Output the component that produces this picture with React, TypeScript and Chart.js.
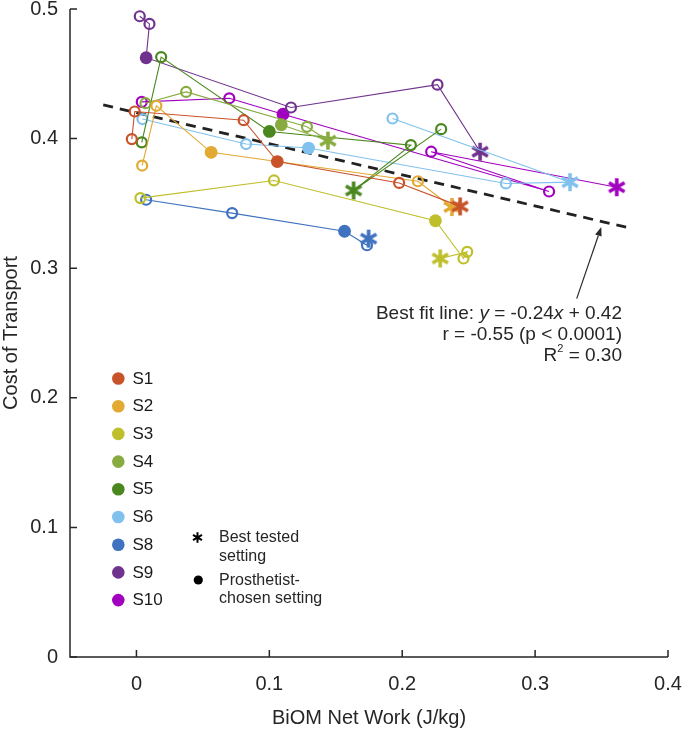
import React, { useEffect, useRef } from 'react';
import { Chart, registerables } from 'chart.js';

Chart.register(...registerables);

const FONT = '"Liberation Sans", Arial, Helvetica, sans-serif';
const AXIS = '#262626';

// ---- data ----
const subjects = ['S1', 'S2', 'S3', 'S4', 'S5', 'S6', 'S8', 'S9', 'S10'];
const colors = ['#C8532A', '#E2A933', '#BFBF2C', '#88AB40', '#4A871F', '#80C1EE', '#3F72BF', '#70338D', '#A200BF'];

// marker kinds: o = tested setting, f = prosthetist-chosen, s = best tested
const s1X = [-0.0035, -0.0013, 0.0807, 0.106, 0.1977, 0.2436];
const s1Y = [0.3996, 0.4209, 0.4142, 0.3823, 0.3658, 0.3477];
const s1K = ['o', 'o', 'o', 'f', 'o', 's'];

const s2X = [0.0043, 0.015, 0.0562, 0.2118, 0.2374];
const s2Y = [0.3792, 0.4253, 0.3894, 0.3671, 0.3472];
const s2K = ['o', 'o', 'f', 'o', 's'];

const s3X = [0.003, 0.1035, 0.225, 0.2461, 0.2489, 0.2286];
const s3Y = [0.3541, 0.3677, 0.3366, 0.3075, 0.3126, 0.3075];
const s3K = ['o', 'o', 'f', 'o', 'o', 's'];

const s4X = [0.0068, 0.0374, 0.1283, 0.1441, 0.109];
const s4Y = [0.4273, 0.436, 0.4091, 0.3984, 0.4107];
const s4K = ['o', 'o', 'o', 's', 'f'];

const s5X = [0.004, 0.0186, 0.1, 0.2065, 0.1634, 0.2293];
const s5Y = [0.3971, 0.4629, 0.4055, 0.395, 0.36, 0.4073];
const s5K = ['o', 'o', 'f', 'o', 's', 'o'];

const s6X = [0.0045, 0.0825, 0.1295, 0.278, 0.3263, 0.1927];
const s6Y = [0.4151, 0.3958, 0.3927, 0.3654, 0.3664, 0.4155];
const s6K = ['o', 'o', 'f', 'o', 's', 'o'];

const s8X = [0.0073, 0.072, 0.1566, 0.1735, 0.1747];
const s8Y = [0.3528, 0.3425, 0.3285, 0.3177, 0.3228];
const s8K = ['o', 'o', 'f', 'o', 's'];

const s9X = [0.0025, 0.0098, 0.0073, 0.1163, 0.2265, 0.2586];
const s9Y = [0.4944, 0.4885, 0.4624, 0.424, 0.4416, 0.3899];
const s9K = ['o', 'o', 'f', 'o', 'o', 's'];

const s10X = [0.004, 0.0699, 0.1103, 0.3105, 0.2218, 0.3614];
const s10Y = [0.4283, 0.4311, 0.4188, 0.3592, 0.3899, 0.3625];
const s10K = ['o', 'o', 'f', 'o', 'o', 's'];

const allX = [s1X, s2X, s3X, s4X, s5X, s6X, s8X, s9X, s10X];
const allY = [s1Y, s2Y, s3Y, s4Y, s5Y, s6Y, s8Y, s9Y, s10Y];
const allK = [s1K, s2K, s3K, s4K, s5K, s6K, s8K, s9K, s10K];

const fitX = [-0.025, 0.371];
const fitY = [0.426, 0.331];

const arrowX = [0.3313, 0.3498];
const arrowY = [0.2765, 0.3318];

const xTicks = [0, 0.1, 0.2, 0.3, 0.4];
const yTicks = [0, 0.1, 0.2, 0.3, 0.4, 0.5];

const fmt = (v: number) => (Math.abs(v) < 1e-9 ? '0' : String(Math.round(v * 10) / 10));

function drawAsterisk(ctx: CanvasRenderingContext2D, cx: number, cy: number, r: number, lw: number, color: string) {
  ctx.save();
  ctx.strokeStyle = color;
  ctx.lineWidth = lw;
  ctx.lineCap = 'butt';
  ctx.beginPath();
  for (const deg of [90, 30, 150]) {
    const a = (deg * Math.PI) / 180;
    ctx.moveTo(cx - r * Math.cos(a), cy - r * Math.sin(a));
    ctx.lineTo(cx + r * Math.cos(a), cy + r * Math.sin(a));
  }
  ctx.stroke();
  ctx.restore();
}

function makeStar(color: string) {
  const size = 22;
  const c = document.createElement('canvas');
  c.width = size;
  c.height = size;
  const ctx = c.getContext('2d')!;
  drawAsterisk(ctx, size / 2, size / 2, 9, 3.6, color);
  return c;
}

function drawSegments(ctx: CanvasRenderingContext2D, segs: [string, string][], rightX: number, y: number) {
  let total = 0;
  for (const [t, f] of segs) {
    ctx.font = f;
    total += ctx.measureText(t).width;
  }
  let x = rightX - total;
  for (const [t, f] of segs) {
    ctx.font = f;
    ctx.fillText(t, x, y);
    x += ctx.measureText(t).width;
  }
}

const decor = {
  id: 'decor',
  afterDraw(chart: any) {
    const { ctx, chartArea: a, scales } = chart;
    const xs = scales.x;
    const ys = scales.y;
    ctx.save();
    // axes
    ctx.strokeStyle = AXIS;
    ctx.lineWidth = 1.5;
    ctx.beginPath();
    ctx.moveTo(a.left, a.top);
    ctx.lineTo(a.left, a.bottom);
    ctx.lineTo(a.right, a.bottom);
    ctx.stroke();
    // inward ticks
    ctx.beginPath();
    for (const v of yTicks) {
      const py = ys.getPixelForValue(v);
      ctx.moveTo(a.left, py);
      ctx.lineTo(a.left + 7, py);
    }
    for (const v of xTicks) {
      const px = xs.getPixelForValue(v);
      ctx.moveTo(px, a.bottom);
      ctx.lineTo(px, a.bottom - 7);
    }
    ctx.stroke();

    // axis titles
    ctx.fillStyle = AXIS;
    ctx.font = `20px ${FONT}`;
    ctx.textAlign = 'center';
    ctx.textBaseline = 'middle';
    ctx.fillText('BiOM Net Work (J/kg)', (a.left + a.right) / 2, a.bottom + 61);
    ctx.save();
    ctx.translate(11, (a.top + a.bottom) / 2);
    ctx.rotate(-Math.PI / 2);
    ctx.fillText('Cost of Transport', 0, 0);
    ctx.restore();

    // legend of subjects
    ctx.textAlign = 'left';
    ctx.textBaseline = 'middle';
    subjects.forEach((s, i) => {
      const cy = 378.5 + i * 27.7;
      ctx.fillStyle = colors[i];
      ctx.beginPath();
      ctx.arc(118.3, cy, 6.3, 0, Math.PI * 2);
      ctx.fill();
      ctx.fillStyle = '#1a1a1a';
      ctx.font = `17px ${FONT}`;
      ctx.fillText(s, 132.5, cy + 0.5);
    });

    // marker legend
    drawAsterisk(ctx, 197.5, 537.5, 5.2, 2, '#000');
    ctx.fillStyle = '#000';
    ctx.beginPath();
    ctx.arc(198.3, 580, 4.6, 0, Math.PI * 2);
    ctx.fill();
    ctx.fillStyle = '#262626';
    ctx.font = `16px ${FONT}`;
    ctx.fillText('Best tested', 219, 538);
    ctx.fillText('setting', 219, 556.5);
    ctx.fillText('Prosthetist-', 219, 580.5);
    ctx.fillText('chosen setting', 219, 598.5);

    // arrow to best-fit line
    const tx = xs.getPixelForValue(arrowX[0]);
    const ty = ys.getPixelForValue(arrowY[0]);
    const hx = xs.getPixelForValue(arrowX[1]);
    const hy = ys.getPixelForValue(arrowY[1]);
    const ang = Math.atan2(hy - ty, hx - tx);
    const hl = 9;
    const hw = 3.4;
    ctx.strokeStyle = '#2a2a2a';
    ctx.fillStyle = '#2a2a2a';
    ctx.lineWidth = 1.2;
    ctx.beginPath();
    ctx.moveTo(tx, ty);
    ctx.lineTo(hx - hl * Math.cos(ang), hy - hl * Math.sin(ang));
    ctx.stroke();
    ctx.beginPath();
    ctx.moveTo(hx, hy);
    ctx.lineTo(hx - hl * Math.cos(ang) + hw * Math.sin(ang), hy - hl * Math.sin(ang) - hw * Math.cos(ang));
    ctx.lineTo(hx - hl * Math.cos(ang) - hw * Math.sin(ang), hy - hl * Math.sin(ang) + hw * Math.cos(ang));
    ctx.closePath();
    ctx.fill();

    // annotation text
    const rx = 622;
    const nf = `19px ${FONT}`;
    const itf = `italic 19px ${FONT}`;
    ctx.fillStyle = '#262626';
    ctx.textAlign = 'left';
    ctx.textBaseline = 'middle';
    drawSegments(ctx, [['Best fit line: ', nf], ['y', itf], [' = -0.24', nf], ['x', itf], [' + 0.42', nf]], rx, 314);
    drawSegments(ctx, [['r = -0.55 (p < 0.0001)', nf]], rx, 335);
    // R^2 line
    ctx.font = nf;
    const wEq = ctx.measureText(' = 0.30').width;
    const wR = ctx.measureText('R').width;
    ctx.font = `11px ${FONT}`;
    const w2 = ctx.measureText('2').width;
    const x0 = rx - wEq - w2 - wR;
    ctx.font = nf;
    ctx.fillText('R', x0, 356);
    ctx.font = `11px ${FONT}`;
    ctx.fillText('2', x0 + wR, 349);
    ctx.font = nf;
    ctx.fillText(' = 0.30', x0 + wR + w2, 356);

    ctx.restore();
  },
};

export default function App() {
  const ref = useRef<HTMLCanvasElement | null>(null);

  useEffect(() => {
    document.body.style.margin = '0';
    const canvas = ref.current;
    if (!canvas) return;
    Chart.defaults.font.family = FONT;

    const datasets: any[] = subjects.map((s, i) => {
      const star = makeStar(colors[i]);
      const kinds = allK[i];
      return {
        label: s,
        data: allX[i].map((x, j) => ({ x, y: allY[i][j] })),
        showLine: true,
        borderColor: colors[i],
        borderWidth: 1.1,
        pointStyle: (c: any) => (kinds[c.dataIndex] === 's' ? star : 'circle'),
        pointRadius: (c: any) => (kinds[c.dataIndex] === 'f' ? 6.4 : kinds[c.dataIndex] === 's' ? 9 : 5),
        pointBackgroundColor: (c: any) => (kinds[c.dataIndex] === 'f' ? colors[i] : 'rgba(0,0,0,0)'),
        pointBorderColor: colors[i],
        pointBorderWidth: (c: any) => (kinds[c.dataIndex] === 'o' ? 2.2 : 0),
      };
    });
    datasets.push({
      label: 'fit',
      data: fitX.map((x, j) => ({ x, y: fitY[j] })),
      showLine: true,
      borderColor: '#222222',
      borderWidth: 2.8,
      borderDash: [10, 7],
      pointRadius: 0,
    });

    const chart = new Chart(canvas, {
      type: 'scatter',
      data: { datasets },
      options: {
        responsive: false,
        animation: false,
        events: [],
        layout: { padding: { top: 6, right: 17, left: 0, bottom: 0 } },
        plugins: { legend: { display: false }, tooltip: { enabled: false } },
        scales: {
          x: {
            type: 'linear',
            min: -0.05,
            max: 0.4,
            grid: { display: false, drawTicks: false },
            border: { display: false },
            ticks: {
              padding: 15,
              color: AXIS,
              font: { size: 20, family: FONT },
              maxRotation: 0,
              autoSkip: false,
              callback: (v: any) => fmt(Number(v)),
            },
            afterBuildTicks: (s: any) => {
              s.ticks = xTicks.map((v) => ({ value: v }));
            },
            afterFit: (s: any) => {
              s.height = 75;
              s.paddingLeft = 0;
              s.paddingRight = 0;
            },
          },
          y: {
            type: 'linear',
            min: 0,
            max: 0.5,
            grid: { display: false, drawTicks: false },
            border: { display: false },
            ticks: {
              padding: 12,
              color: AXIS,
              font: { size: 20, family: FONT },
              autoSkip: false,
              callback: (v: any) => fmt(Number(v)),
            },
            afterBuildTicks: (s: any) => {
              s.ticks = yTicks.map((v) => ({ value: v }));
            },
            afterFit: (s: any) => {
              s.width = 70;
              s.paddingTop = 0;
              s.paddingBottom = 0;
            },
          },
        },
      },
      plugins: [decor],
    });
    return () => chart.destroy();
  }, []);

  return (
    <div style={{ width: 685, height: 732 }}>
      <canvas ref={ref} width={685} height={732} style={{ display: 'block', width: 685, height: 732 }} />
    </div>
  );
}
